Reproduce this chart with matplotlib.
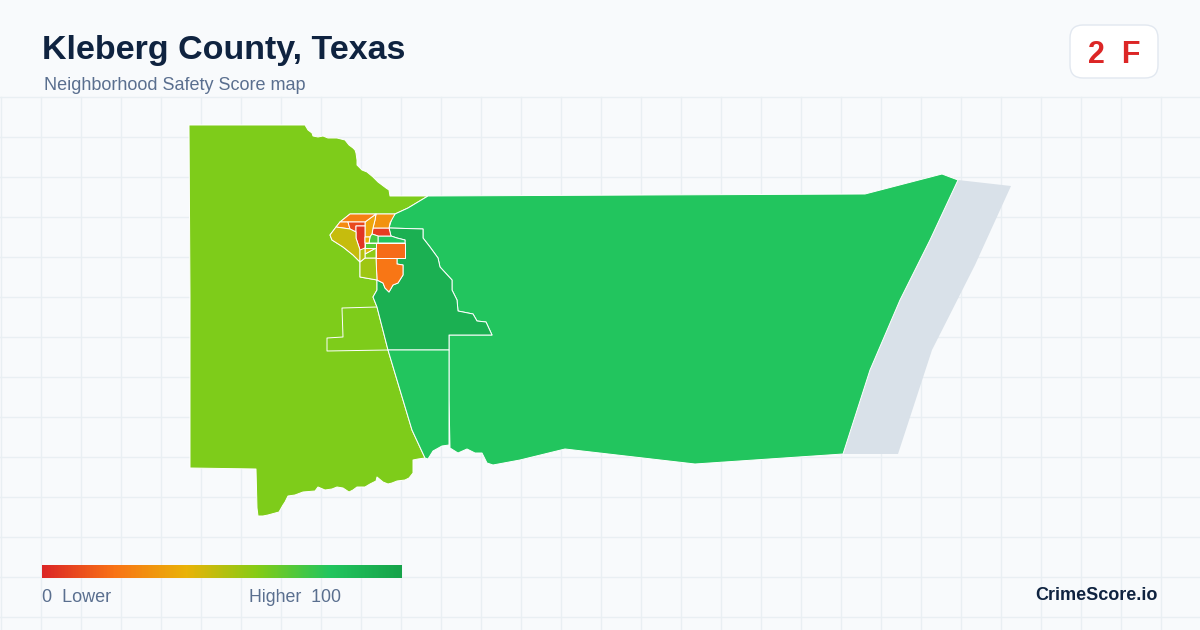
import numpy as np
import matplotlib
matplotlib.use('Agg')
import matplotlib.pyplot as plt
from matplotlib.colors import LinearSegmentedColormap
from matplotlib.patches import Polygon, FancyBboxPatch

plt.rcParams['font.family'] = ['Liberation Sans', 'DejaVu Sans']

title = 'Kleberg County, Texas'
subtitle = 'Neighborhood Safety Score map'
score_text = '2  F'
brand = 'CrimeScore.io'

# colour scale of the legend
scale_stops = [0, 20, 40, 60, 80, 100]
scale_colors = ['#dc2626', '#f97316', '#eab308', '#84cc16', '#22c55e', '#16a34a']

# tract outlines in pixels
west = [(189, 125), (305, 125), (308, 130), (312, 133), (313, 136), (318, 137), (323, 136), (328, 138), (337, 138),
        (345, 140), (349, 145), (353, 148), (355, 150), (356, 153), (357, 160), (357, 165), (362, 170), (367, 172),
        (373, 177), (378, 182), (382, 185), (386, 188), (389, 190), (390, 196), (428, 196), (408, 208), (395, 214),
        (350, 214), (340, 222), (330, 235), (332, 240), (343, 247), (353, 255), (360, 262), (360, 277), (377, 280),
        (377, 290), (373, 297), (377, 307), (388, 350), (400, 390), (412, 430), (425, 458), (418, 459), (413, 460),
        (413, 468), (413, 473), (409, 478), (405, 480), (397, 481), (392, 483), (388, 484), (383, 482), (377, 477),
        (376, 481), (370, 484), (365, 487), (357, 487), (353, 490), (349, 492), (343, 488), (337, 487), (332, 489),
        (325, 490), (318, 487), (315, 491), (303, 492), (295, 495), (288, 496), (285, 502), (283, 505), (279, 512),
        (268, 515), (263, 516), (258, 516), (257, 508), (256, 469), (190, 468), (190, 296)]
west_inner = [(342, 308), (377, 307), (388, 350), (327, 351), (327, 338), (343, 337)]
east = [(428, 196), (865, 194), (942, 174), (958, 180), (930, 240), (900, 300), (870, 370), (843, 454),
        (695, 464), (565, 449), (520, 460), (493, 465), (487, 463), (482, 453), (475, 453), (467, 449), (458, 453),
        (450, 448), (449, 400), (449, 335), (492, 335), (486, 322), (477, 321), (473, 314), (458, 311),
        (457, 300), (452, 290), (452, 280), (440, 267), (438, 258), (430, 247), (423, 238), (423, 229),
        (389, 228), (392, 218), (395, 214), (408, 208)]
center = [(389, 228), (423, 229), (423, 238), (430, 247), (438, 258), (440, 267), (452, 280), (452, 290),
          (457, 300), (458, 311), (473, 314), (477, 321), (486, 322), (492, 335), (449, 335), (449, 350),
          (388, 350), (377, 307), (373, 297), (377, 290), (377, 280), (383, 283), (385, 288), (389, 292),
          (393, 285), (398, 283), (403, 275), (403, 265), (397, 264), (397, 258), (405, 258), (405, 240),
          (397, 238), (391, 236)]
south = [(388, 350), (449, 350), (449, 445), (442, 446), (433, 451), (428, 459), (425, 458), (412, 430), (400, 390)]
orange_south = [(376, 258), (397, 258), (397, 264), (403, 265), (403, 275), (398, 283), (393, 285), (389, 292),
                (385, 288), (383, 283), (377, 280)]
orange_rect = [(376, 243), (405, 243), (405, 258), (376, 258)]
green_strip = [(378, 236), (391, 236), (397, 238), (405, 240), (405, 243), (378, 243)]
red_rect = [(373, 228), (389, 228), (391, 236), (378, 236), (372, 234)]
amber_ne = [(376, 214), (395, 214), (390, 223), (389, 228), (373, 228), (375, 220)]
amber_mid = [(376, 214), (375, 220), (373, 228), (372, 234), (370, 237), (365, 237), (365, 222)]
orange_n = [(350, 214), (376, 214), (365, 222), (340, 222)]
orange_w = [(340, 222), (348, 222), (350, 229), (336, 227)]
red_n = [(348, 222), (365, 222), (365, 226), (356, 226), (356, 232), (350, 229)]
red_mid = [(356, 226), (365, 226), (365, 250), (360, 250), (356, 238)]
yellow_w = [(330, 235), (336, 227), (350, 229), (356, 232), (356, 238), (360, 250), (360, 262), (353, 255),
            (343, 247), (332, 240)]
lime_low = [(360, 262), (365, 258), (376, 258), (377, 280), (360, 277)]
lime_sq = [(365, 254), (376, 248), (376, 258), (365, 258)]
amber_tri = [(365, 248), (376, 248), (365, 254)]
green_a = [(370, 237), (372, 234), (378, 236), (378, 243), (369, 243)]
green_b = [(365, 243), (376, 243), (376, 248), (365, 248)]
yellow_c = [(365, 237), (370, 237), (369, 243), (365, 243)]
lime_d = [(360, 250), (365, 248), (365, 258), (360, 262)]

tracts = [west, west_inner, east, center, south, orange_south, orange_rect, green_strip, red_rect, amber_ne,
          amber_mid, orange_n, orange_w, red_n, red_mid, yellow_w, lime_low, lime_sq, amber_tri,
          green_a, green_b, yellow_c, lime_d]
scores = [61, 61, 80, 92, 80, 21, 18, 80, 6, 30, 36, 24, 27, 9, 4, 47, 55, 58, 42, 72, 68, 40, 50]

# no data strip along the coast
no_data = [(958, 180), (1011, 186), (975, 265), (932, 350), (898, 454), (843, 454), (870, 370), (900, 300), (930, 240)]

cmap = LinearSegmentedColormap.from_list('score', [(s / 100, c) for s, c in zip(scale_stops, scale_colors)])

fig = plt.figure(figsize=(12, 6.3), dpi=100, facecolor='#f8fafc')
ax = fig.add_axes([0, 0, 1, 1])
ax.axis('off')

# background grid
for x in np.arange(0.5, 1200, 40):
    ax.plot([x, x], [96.5, 630], color='#e9eff3', lw=1, zorder=1)
for y in np.arange(96.5, 630, 40):
    ax.plot([0, 1200], [y, y], color='#e9eff3', lw=1, zorder=1)

ax.add_patch(Polygon(no_data, closed=True, facecolor='#d9e1e9', edgecolor='none', zorder=2))
for pts, s in zip(tracts, scores):
    ax.add_patch(Polygon(pts, closed=True, facecolor=cmap(s / 100), edgecolor='#ffffff', lw=0.7,
                         joinstyle='round', zorder=3))

# header
ax.text(42, 51, title, fontsize=24.5, fontweight='bold', color='#0f2340', va='center', ha='left', zorder=5)
ax.text(44, 86, subtitle, fontsize=13, color='#5a6f8f', va='center', ha='left', zorder=5)
ax.add_patch(FancyBboxPatch((1070, 25), 88, 53, boxstyle='round,pad=0,rounding_size=13',
                            facecolor='white', edgecolor='#e2e8f0', lw=1, zorder=5))
ax.text(1114, 55, score_text, fontsize=22, fontweight='bold', color='#dc2626', va='center', ha='center', zorder=6)

# legend
ax.imshow(np.linspace(0, 1, 360).reshape(1, -1), cmap=cmap, extent=(42, 402, 578, 565), aspect='auto', zorder=5)
ax.text(42, 598, '0  Lower', fontsize=13, color='#5a6f8f', va='center', ha='left', zorder=5)
ax.text(249, 598, 'Higher  100', fontsize=12.8, color='#5a6f8f', va='center', ha='left', zorder=5)
ax.text(1158, 595, brand, fontsize=13, fontweight='bold', color='#0f2340', va='center', ha='right', zorder=5)

ax.set_xlim(0, 1200)
ax.set_ylim(630, 0)

fig.savefig('out.png', dpi=100, facecolor=fig.get_facecolor())
